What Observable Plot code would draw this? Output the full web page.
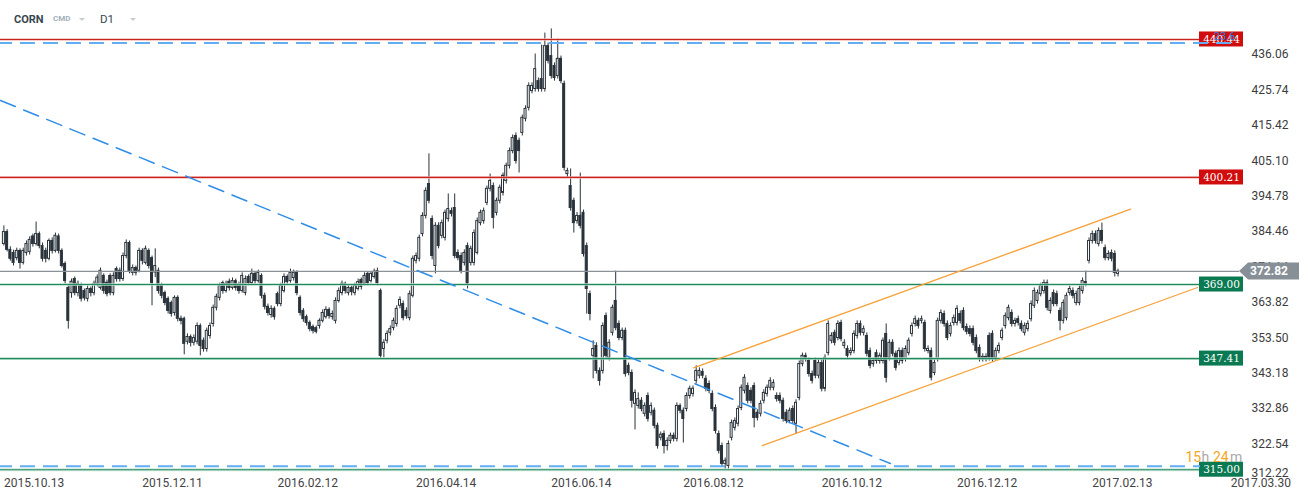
<!DOCTYPE html>
<html><head><meta charset="utf-8">
<script src="https://cdn.jsdelivr.net/npm/d3@7"></script>
<script src="https://cdn.jsdelivr.net/npm/@observablehq/plot@0.6"></script>
<style>
html,body{margin:0;padding:0;background:#fff;}
#wrap{position:relative;width:1311px;height:503px;overflow:hidden;background:#fff;}
#hdr span{position:absolute;font-family:Roboto,sans-serif;white-space:nowrap;}
.caret{width:0;height:0;border-left:3.5px solid transparent;border-right:3.5px solid transparent;border-top:3.5px solid #c5cdd2;}
</style></head><body>
<div id="wrap"><div id="chart"></div>
<div id="hdr">
<span style="left:14px;top:14px;font-size:11px;line-height:11px;font-weight:700;color:#37474f">CORN</span>
<span style="left:53px;top:14.5px;font-size:8px;line-height:8px;font-weight:700;color:#9fb0ba">CMD</span>
<span class="caret" style="left:79px;top:18px"></span>
<span style="left:100px;top:13.5px;font-size:11.5px;line-height:11.5px;color:#37474f">D1</span>
<span class="caret" style="left:130px;top:18px"></span>
</div></div>
<script>
// ---- candle data (CORN, D1), index 0 = 2015.10.13 ----
const opens = [
380.8,384.3,379.1,378.2,376.7,378.8,375.3,378.2,378.5,383.0,
380.8,383.7,380.2,378.8,376.5,381.7,378.8,383.0,378.8,375.0,
368.0,366.5,370.6,366.5,368.6,367.1,364.8,367.7,366.5,369.2,
368.0,371.5,369.5,371.5,366.5,373.5,373.0,370.6,377.3,381.1,
372.4,373.8,373.0,378.8,375.3,378.8,376.7,372.5,373.0,368.6,
366.5,364.8,363.6,360.7,365.1,359.0,359.0,352.3,353.7,352.0,
352.3,356.9,352.6,350.2,354.0,357.5,362.2,365.1,369.4,367.1,
369.8,368.0,370.0,368.9,367.1,366.5,371.2,369.4,372.1,370.0,
371.5,365.7,362.5,360.1,361.9,366.2,363.3,367.1,371.2,370.0,
370.9,372.4,365.1,361.3,359.5,357.8,356.6,356.3,356.9,358.4,
359.5,361.6,359.5,358.4,364.2,366.5,369.2,366.5,368.0,366.5,
367.7,370.3,369.2,372.1,370.0,371.2,372.9,367.1,350.2,352.6,
354.9,356.3,357.5,362.8,363.3,361.3,359.2,365.7,375.9,376.5,
383.7,389.0,398.3,388.1,374.4,386.1,383.2,382.6,388.1,390.4,
391.3,378.2,377.3,375.3,380.2,375.3,375.3,378.2,386.9,387.5,
392.8,396.9,397.7,389.9,393.4,395.7,399.2,403.6,407.9,412.3,
410.9,413.2,417.3,420.5,425.4,426.0,428.3,428.9,426.0,438.5,
435.6,432.7,429.8,434.8,427.5,401.2,397.7,393.4,387.5,389.0,
389.9,380.2,366.2,348.2,351.1,343.8,343.8,359.8,347.6,354.9,
364.2,357.5,353.4,355.5,345.3,343.2,334.2,333.6,335.1,331.3,
336.5,331.6,332.2,327.8,324.3,325.4,321.9,323.4,324.9,324.0,
333.6,332.2,332.7,336.5,337.1,340.9,342.4,343.5,341.5,340.0,
337.1,333.0,325.4,321.9,316.7,316.1,324.3,327.2,328.4,333.0,
338.0,339.4,338.0,339.4,331.6,331.3,335.1,337.1,338.9,338.9,
336.5,336.5,335.1,331.6,329.2,332.7,328.4,335.9,345.8,348.2,
346.7,342.9,346.7,342.4,346.1,338.6,349.0,352.6,354.9,353.4,
357.8,351.1,350.2,349.0,349.6,354.0,357.5,354.9,354.0,349.6,
345.8,349.0,346.7,346.7,354.6,347.6,352.0,348.8,346.1,349.6,
347.3,349.0,354.6,357.5,358.4,358.4,357.8,349.6,349.6,343.2,
347.3,358.4,360.4,357.5,354.6,357.8,357.8,360.4,361.3,356.6,
356.0,356.0,353.4,350.5,347.9,347.3,354.0,354.6,347.6,349.6,
353.4,356.9,359.2,360.7,357.5,358.9,357.5,354.9,356.0,358.9,
362.8,364.2,366.2,367.1,369.4,361.3,366.5,366.2,361.3,358.4,
359.2,366.5,367.1,363.6,363.6,367.1,369.7,375.9,381.7,383.7,
380.8,384.6,379.6,376.7,378.2,377.9,372.1];
const highs = [
386.1,385.0,380.0,379.0,379.6,379.4,379.6,381.7,382.9,383.7,
387.2,384.3,381.1,379.6,382.3,382.6,384.0,383.7,379.4,375.6,
368.9,370.6,371.2,370.0,369.4,367.7,368.6,368.3,370.0,371.8,
373.8,372.1,370.3,372.1,372.4,374.1,373.8,378.2,382.0,381.7,
374.7,374.4,379.6,379.4,380.2,379.4,377.3,379.4,373.8,369.4,
367.1,365.4,364.2,365.7,365.7,359.8,359.5,354.6,354.3,354.3,
357.8,357.5,353.4,356.3,357.8,363.0,366.2,369.4,370.0,370.0,
370.6,370.9,370.6,369.7,372.4,371.5,371.8,373.5,372.7,373.2,
372.1,366.5,363.3,362.8,362.5,366.8,369.4,372.1,371.8,373.5,
373.2,373.0,365.7,362.0,360.1,358.4,357.2,356.9,359.0,361.6,
362.5,362.2,361.3,365.1,368.0,370.0,369.7,368.9,368.6,369.4,
370.6,370.9,372.4,372.7,372.7,373.5,373.8,367.7,352.9,355.5,
356.9,359.2,362.8,365.4,364.2,362.2,367.1,377.3,378.2,383.4,
389.9,397.2,407.1,389.0,387.0,387.0,387.8,390.7,395.4,391.3,
395.4,379.1,378.2,379.1,381.1,380.2,384.9,388.4,390.7,391.3,
397.7,401.2,398.6,394.2,398.0,401.5,404.4,408.8,412.6,413.2,
411.7,418.4,421.1,427.8,427.8,436.2,429.2,438.8,442.3,439.4,
443.5,433.6,440.6,435.6,428.3,402.9,402.7,394.2,390.0,401.5,
390.7,381.1,367.1,352.6,352.0,344.7,357.8,360.7,352.9,363.0,
372.9,358.4,356.3,356.3,346.1,344.1,338.3,337.4,336.0,334.5,
337.4,334.5,333.0,328.6,326.0,326.3,324.3,325.7,325.7,334.5,
334.2,333.0,337.4,339.4,339.4,345.3,344.7,344.4,342.4,340.9,
338.0,333.9,326.3,322.8,318.4,323.4,329.5,330.1,333.6,339.7,
342.7,340.3,338.9,340.3,332.5,335.1,338.3,339.7,341.8,341.2,
337.4,337.4,335.9,332.5,333.0,333.6,335.4,346.7,349.0,349.0,
347.6,343.8,347.6,347.0,347.0,348.5,358.4,354.9,355.7,358.4,
358.6,352.9,351.1,350.5,355.5,358.4,358.4,356.9,354.9,350.5,
347.6,349.9,349.0,353.4,357.5,352.9,352.9,349.6,350.5,350.5,
351.1,353.4,357.8,359.8,359.2,359.8,358.6,351.1,350.5,347.0,
359.2,361.6,361.3,358.4,357.8,360.1,362.8,361.3,362.2,357.5,
356.9,356.9,354.3,351.4,348.8,348.8,354.9,355.5,350.5,352.0,
356.3,360.7,363.0,361.6,359.2,359.8,358.4,357.8,358.4,364.2,
368.0,367.4,369.4,370.3,370.3,365.1,367.4,367.1,362.2,364.5,
366.5,368.6,368.0,367.1,368.6,370.9,372.9,382.6,384.6,384.6,
385.5,386.9,380.5,378.8,379.1,378.8,373.5];
const lows = [
380.2,378.5,375.8,374.4,375.9,373.5,374.7,377.3,377.6,379.9,
380.2,379.4,375.6,375.3,375.9,377.9,378.2,377.9,373.8,369.1,
356.0,365.0,365.7,365.4,363.9,364.2,363.9,365.4,365.7,368.3,
367.4,366.2,365.4,365.7,365.7,369.7,369.7,369.9,376.5,372.1,
371.5,371.5,372.4,374.7,374.7,373.5,362.8,371.0,366.2,364.8,
362.8,360.4,359.5,359.8,358.1,357.2,348.5,351.4,350.8,351.1,
351.4,348.2,349.3,349.3,353.1,356.6,361.3,364.2,366.2,366.5,
367.1,367.4,367.1,366.2,366.5,365.7,368.6,368.6,369.1,369.4,
364.8,361.6,359.8,359.2,358.6,362.5,362.5,366.5,368.9,369.4,
370.0,365.7,359.8,358.0,356.9,355.2,354.6,354.6,356.0,357.8,
358.9,358.9,358.6,357.5,363.6,365.7,366.2,365.7,365.7,365.7,
367.1,367.4,368.6,368.6,369.4,370.6,368.6,347.3,347.6,351.7,
354.0,355.5,356.6,361.9,358.4,358.9,358.4,365.1,375.0,375.6,
382.9,388.1,392.5,376.2,372.1,379.4,382.3,381.7,387.2,388.7,
376.5,375.9,372.1,374.4,367.7,374.4,374.4,377.6,386.1,386.6,
392.0,396.0,385.2,389.0,392.5,394.8,398.3,402.7,407.1,404.1,
401.5,412.3,416.4,419.6,424.6,425.1,425.1,425.1,425.1,433.3,
428.9,428.3,428.9,427.5,402.1,400.1,390.4,384.0,386.6,385.2,
377.0,360.4,358.4,341.5,342.9,339.4,342.9,347.3,346.7,354.0,
355.5,352.6,352.6,342.0,342.4,333.0,326.6,332.7,331.9,330.4,
328.9,330.7,326.9,321.0,323.4,319.6,320.5,322.5,323.1,323.1,
331.3,322.8,331.9,335.6,336.2,340.0,341.5,341.5,337.7,337.1,
331.9,325.4,319.6,315.8,315.2,315.2,323.4,326.3,327.5,332.2,
337.1,334.2,334.2,327.2,329.2,330.4,334.2,336.2,338.0,338.0,
334.7,334.2,328.9,328.4,328.4,328.4,325.4,335.1,345.0,346.4,
342.0,340.0,341.5,341.5,337.7,337.7,348.2,351.7,351.1,352.6,
352.3,350.2,347.3,348.2,348.8,353.1,354.0,354.0,347.9,344.4,
344.9,345.8,345.8,345.8,340.3,346.7,347.9,343.8,345.3,345.8,
346.4,348.2,353.7,356.6,356.0,357.5,349.3,348.8,340.9,342.4,
346.4,357.5,356.6,352.6,353.7,356.9,356.9,357.5,355.5,354.3,
353.7,351.1,348.8,346.4,346.4,346.4,346.7,346.4,346.7,348.8,
352.6,356.0,358.4,356.6,356.6,356.9,355.2,354.0,355.2,358.1,
362.0,363.3,365.4,366.2,361.3,360.4,362.5,362.5,355.5,357.5,
358.4,365.7,364.8,362.8,362.8,366.2,368.3,375.0,380.8,380.8,
380.0,380.8,375.9,375.9,375.6,371.2,371.2];
const closes = [
384.3,379.1,376.5,375.3,378.8,375.3,378.8,380.8,382.0,380.8,
383.7,380.2,376.5,376.5,381.7,378.8,383.2,378.8,374.4,370.0,
358.4,369.8,366.5,369.2,364.8,365.0,367.7,366.5,369.2,371.0,
373.0,367.1,366.2,366.5,371.5,370.6,370.6,377.3,381.1,373.0,
373.8,372.4,378.8,375.9,379.4,374.4,369.4,374.4,367.1,365.7,
363.6,361.3,360.4,365.1,359.0,358.4,351.7,353.7,352.0,353.4,
356.9,351.1,350.2,355.5,356.9,362.2,365.4,368.6,367.1,369.2,
368.0,370.0,368.0,367.1,371.5,370.6,369.4,372.1,370.0,372.4,
365.7,362.5,360.7,361.9,359.5,363.3,368.6,371.2,369.7,372.4,
372.4,366.5,360.7,358.9,357.8,356.0,355.5,355.2,358.4,360.7,
361.6,359.8,360.4,364.2,367.1,369.2,367.1,368.0,366.8,368.6,
369.7,368.3,371.5,369.4,372.1,372.7,369.4,348.2,352.0,354.6,
356.0,358.4,361.9,364.5,359.2,359.8,366.2,376.5,377.3,382.6,
389.0,396.3,393.4,377.3,386.1,380.2,386.9,389.9,391.0,389.6,
377.3,376.7,372.9,378.2,369.2,379.4,384.0,387.5,389.9,390.4,
396.9,399.2,388.4,393.4,397.2,400.7,403.6,407.9,411.7,405.0,
407.9,417.6,420.2,426.9,426.9,431.8,426.0,426.0,438.5,434.2,
429.8,429.2,434.8,428.3,403.0,402.1,391.3,386.9,389.0,386.1,
377.9,367.7,360.4,350.2,343.8,340.9,356.9,348.2,352.0,362.2,
356.3,353.4,355.5,342.9,343.2,335.1,337.4,335.6,332.7,333.6,
329.8,333.6,327.8,321.9,325.2,321.9,323.4,324.9,324.0,333.6,
332.2,329.8,336.5,338.6,338.6,343.8,343.8,342.4,338.6,338.0,
332.7,326.3,320.5,316.7,317.6,322.5,328.6,329.2,332.7,338.9,
341.8,335.1,335.1,330.1,330.1,334.2,337.4,338.9,340.9,340.3,
335.6,335.1,329.8,329.2,332.2,329.2,334.5,345.8,348.2,347.3,
342.9,340.9,342.4,346.1,338.6,347.6,357.5,354.0,352.0,357.5,
353.1,352.0,348.2,349.6,354.6,357.5,354.9,356.0,348.8,345.3,
346.7,346.7,348.2,352.6,341.8,352.0,348.8,344.7,349.6,346.7,
350.2,352.6,356.9,358.9,356.9,358.9,350.2,350.2,341.8,346.1,
358.4,360.7,357.5,353.4,356.9,359.2,361.9,358.4,356.3,355.2,
354.6,352.0,349.6,347.3,347.3,347.9,347.6,347.3,349.6,351.1,
355.5,359.8,362.2,357.5,358.4,357.8,356.0,356.9,357.5,363.3,
367.1,366.5,368.6,369.4,362.2,364.2,363.3,363.3,358.4,363.6,
365.7,367.7,365.7,366.2,367.7,370.0,369.2,381.7,383.7,381.7,
384.6,381.7,376.7,377.9,376.5,372.4,372.82];

// axis labels
const dateLabels = ["2015.10.13","2015.12.11","2016.02.12","2016.04.14","2016.06.14","2016.08.12","2016.10.12","2016.12.12","2017.02.13","2017.03.30"];
const dateIdx = [0, 43, 85, 128, 170, 211, 254, 296, 338, 381];
const priceTicks = [436.06, 425.74, 415.42, 405.10, 394.78, 384.46, 374.14, 363.82, 353.50, 343.18, 332.86, 322.54, 312.22];

// horizontal levels
const levelValues = [440.44, 400.21, 369.00, 347.41, 315.00];
const levelKinds = ["res", "res", "sup", "sup", "sup"];
const lastPrice = 372.82;

// drawn objects (index, price)
const fiboTop = 439.4, fiboBottom = 316.0;
const trendIdx = [-1.06, 275.3];
const trendPrice = [422.65, 316.8];
const chanUpIdx = [214.2, 349.9], chanUpPrice = [344.72, 390.99];
const chanLoIdx = [235.5, 370.7], chanLoPrice = [322.06, 368.13];

// ---- build ----
const data = closes.map((c, i) => ({i, open: opens[i], high: highs[i], low: lows[i], close: c}));
const up = data.filter(d => d.close >= d.open);
const down = data.filter(d => d.close < d.open);
const levels = levelValues.map((v, k) => ({v, kind: levelKinds[k]}));
const resLv = levels.filter(d => d.kind === "res");
const supLv = levels.filter(d => d.kind === "sup");
const trend = trendIdx.map((x, k) => ({x, y: trendPrice[k]}));
const chanUp = chanUpIdx.map((x, k) => ({x, y: chanUpPrice[k]}));
const chanLo = chanLoIdx.map((x, k) => ({x, y: chanLoPrice[k]}));

const DARK = "#29323a";
const PX = 3.22, X0 = 3.4;        // pixels per candle, first candle centre
const PY = 3.43, Y0 = 54;         // pixels per price unit, pixel of top tick
const labL = (1199 - X0) / PX, labR = (1243 - X0) / PX; // level label box in index units
const half = 7.5 / PY;

function priceTag(index, scales, values, dims) {
  const yc = scales.y(lastPrice);
  const r = dims.width - 12, tip = r - 60, b = tip + 9;
  const g = d3.create("svg:g");
  g.append("path")
    .attr("d", `M${tip},${yc}L${b},${yc - 8.5}L${r},${yc - 8.5}L${r},${yc + 8.5}L${b},${yc + 8.5}Z`)
    .attr("fill", "#879096");
  g.append("text").attr("x", r - 11).attr("y", yc).attr("dy", "0.35em")
    .attr("text-anchor", "end").attr("fill", "#fff")
    .attr("font-family", "Roboto, sans-serif").attr("font-weight", 700).attr("font-size", 12)
    .text(lastPrice.toFixed(2));
  return g.node();
}

const chart = Plot.plot({
  width: 1311, height: 503,
  marginTop: 0, marginRight: 0, marginBottom: 0, marginLeft: 0,
  style: {fontFamily: "Roboto, sans-serif", background: "transparent", overflow: "visible"},
  x: {type: "linear", domain: [0, 100], range: [X0, X0 + 100 * PX], axis: null},
  y: {type: "linear", domain: [312.22, 436.06], range: [Y0 + (436.06 - 312.22) * PY, Y0], axis: null},
  marks: [
    // candles
    Plot.ruleX(data, {x: "i", y1: "low", y2: "high", stroke: DARK, strokeWidth: 1}),
    Plot.rect(down, {x1: d => d.i - 0.31, x2: d => d.i + 0.31, y1: "open", y2: "close", fill: DARK, stroke: DARK, strokeWidth: 1}),
    Plot.rect(up, {x1: d => d.i - 0.31, x2: d => d.i + 0.31, y1: "open", y2: "close", fill: "#fff", stroke: DARK, strokeWidth: 1}),
    // horizontal levels (soft halo + core line)
    Plot.ruleY(resLv, {y: "v", x1: () => -2, x2: () => labL, stroke: "#f2b8b5", strokeWidth: 3, strokeOpacity: 0.7}),
    Plot.ruleY(resLv, {y: "v", x1: () => -2, x2: () => labL, stroke: "#c8231c", strokeWidth: 1.2}),
    Plot.ruleY(supLv, {y: "v", x1: () => -2, x2: () => labL, stroke: "#b9dccb", strokeWidth: 3, strokeOpacity: 0.7}),
    Plot.ruleY(supLv, {y: "v", x1: () => -2, x2: () => labL, stroke: "#1c8a5e", strokeWidth: 1.2}),
    Plot.ruleY([lastPrice], {y: d => d, x1: () => -2, x2: () => (1239 - X0) / PX, stroke: "#8a9297", strokeWidth: 1.2}),
    // trend line and channel
    Plot.line(trend, {x: "x", y: "y", stroke: "#2f8de8", strokeWidth: 1.5, strokeDasharray: "16,9"}),
    Plot.line(chanUp, {x: "x", y: "y", stroke: "#f7a13a", strokeWidth: 1.3}),
    Plot.line(chanLo, {x: "x", y: "y", stroke: "#f7a13a", strokeWidth: 1.3}),
    // level label boxes
    Plot.rect(resLv, {x1: () => labL, x2: () => labR, y1: d => d.v - half, y2: d => d.v + half, fill: "#d10c0c"}),
    Plot.rect(supLv, {x1: () => labL, x2: () => labR, y1: d => d.v - half, y2: d => d.v + half, fill: "#0b7a52"}),
    Plot.text(levels, {x: () => (labL + labR) / 2, y: "v", text: d => d.v.toFixed(2), fill: "#fff", fontFamily: "DejaVu Serif, serif", fontSize: 10.5}),
    // fibonacci dashed levels
    Plot.ruleY([fiboTop], {y: d => d, x1: () => -2, x2: () => (1237 - X0) / PX, stroke: "#62aef2", strokeWidth: 2, strokeDasharray: "15,8"}),
    Plot.ruleY([fiboBottom], {y: d => d, x1: () => -2, x2: () => (1200 - X0) / PX, stroke: "#62aef2", strokeWidth: 2, strokeDasharray: "15,8"}),
    Plot.text(["23.6"], {y: () => 441.3, frameAnchor: "right", dx: -87, text: d => d, fill: "#2f7fe0", fontSize: 11, textAnchor: "middle"}),
    // right price axis
    Plot.text(priceTicks.slice(0, -1), {y: d => d, text: d => d.toFixed(2), frameAnchor: "right", dx: -23, textAnchor: "end", fill: "#3c3c3c", fontSize: 12}),
    Plot.text(priceTicks.slice(-1), {y: d => d, text: d => d.toFixed(2), frameAnchor: "right", dx: -23, dy: -6, textAnchor: "end", fill: "#3c3c3c", fontSize: 12}),
    // bottom date axis
    Plot.text(dateIdx, {x: d => d, text: (d, i) => dateLabels[i], frameAnchor: "bottom", dy: -17, textAnchor: "start", fill: "#444", fontSize: 12}),
    // countdown text
    Plot.text(["15"], {y: () => 318.6, frameAnchor: "right", dx: -126, text: d => d, textAnchor: "start", fill: "#f5a623", fontSize: 14}),
    Plot.text(["h"], {y: () => 318.6, frameAnchor: "right", dx: -110, text: d => d, textAnchor: "start", fill: "#aaaaaa", fontSize: 14}),
    Plot.text(["24"], {y: () => 318.6, frameAnchor: "right", dx: -98.5, text: d => d, textAnchor: "start", fill: "#f5a623", fontSize: 14}),
    Plot.text(["m"], {y: () => 318.6, frameAnchor: "right", dx: -81.5, text: d => d, textAnchor: "start", fill: "#aaaaaa", fontSize: 14}),
    // current price tag
    priceTag
  ]
});
document.getElementById("chart").appendChild(chart);
</script>
</body></html>
